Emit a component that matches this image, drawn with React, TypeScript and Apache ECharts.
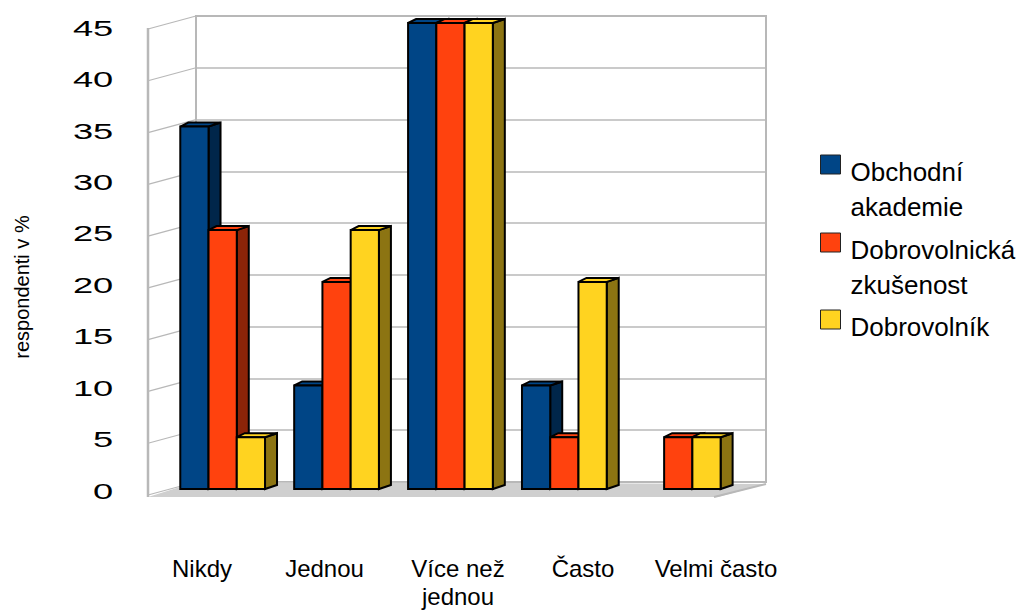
import React, { useEffect, useRef } from "react";
import * as echarts from "echarts";

const categories = ["Nikdy", "Jednou", "Více než\njednou", "Často", "Velmi často"];
const seriesNames = ["Obchodní\nakademie", "Dobrovolnická\nzkušenost", "Dobrovolník"];
const obchodni = [35, 10, 45, 10, 0];
const dobrovolnicka = [25, 20, 45, 5, 5];
const dobrovolnik = [5, 25, 45, 20, 5];
const yTicks = [0, 5, 10, 15, 20, 25, 30, 35, 40, 45];
const colors = ["#004586", "#ff420e", "#ffd320"];
const sideColors = ["#00264a", "#8c2408", "#8c7412"];
const yTitle = "respondenti v %";
const labelPadRight = [0, 12, 2, 9, 0];

const GRID_LINE = "#b8b8b8";

function barRenderer(seriesPos: number) {
  return (params: any, api: any) => {
    const v = api.value(1);
    if (!v) return null;
    const band = api.size([1, 0])[0];
    const w = band * 0.248;
    const top = api.coord([api.value(0), v]);
    const base = api.coord([api.value(0), 0]);
    const x0 = top[0] + (seriesPos - 1.5) * w;
    const x1 = x0 + w;
    const y0 = top[1];
    const y1 = base[1];
    const stroke = { stroke: "#000000", lineWidth: 2 };
    return {
      type: "group",
      children: [
        {
          type: "polygon",
          shape: { points: [[x1, y0], [x1 + 12, y0 - 4], [x1 + 12, y1 - 4], [x1, y1]] },
          style: { fill: sideColors[seriesPos], ...stroke },
        },
        {
          type: "polygon",
          shape: { points: [[x0, y0], [x0 + 8, y0 - 4], [x1 + 12, y0 - 4], [x1, y0]] },
          style: { fill: colors[seriesPos], ...stroke },
        },
        {
          type: "rect",
          shape: { x: x0, y: y0, width: w, height: y1 - y0 },
          style: { fill: colors[seriesPos], ...stroke },
        },
      ],
    };
  };
}

export default function App() {
  const ref = useRef<HTMLDivElement>(null);
  useEffect(() => {
    document.body.style.margin = "0";
    const chart = echarts.init(ref.current!, null, { renderer: "svg" });
    const barData = [obchodni, dobrovolnicka, dobrovolnik];
    const legendTops = [154, 232, 309];
    const iconHeights = [68, 68, 33];
    chart.setOption({
      animation: false,
      backgroundColor: "#ffffff",
      grid: [
        { left: 196, top: 16, width: 570, height: 466, show: true, borderColor: GRID_LINE, borderWidth: 2, backgroundColor: "transparent" },
        { left: 165.7, top: 23, width: 569.5, height: 466 },
        { left: 137.75, top: 28, width: 642.5, height: 467 },
      ],
      xAxis: [
        { type: "category", gridIndex: 0, data: categories, show: false },
        { type: "category", gridIndex: 1, data: categories, show: false },
        {
          type: "category",
          gridIndex: 2,
          data: categories.map((value, i) => ({ value, textStyle: { padding: [0, labelPadRight[i], 0, 0] } })),
          axisLine: { show: false },
          axisTick: { show: false },
          axisLabel: { interval: 0, margin: 63, fontSize: 24, lineHeight: 28, fontFamily: "Liberation Sans", color: "#000000" },
        },
      ],
      yAxis: [
        {
          type: "value", gridIndex: 0, min: 0, max: 45, interval: 5,
          axisLine: { show: false }, axisTick: { show: false }, axisLabel: { show: false },
          splitLine: { show: true, lineStyle: { color: GRID_LINE, width: 1.5 } },
        },
        { type: "value", gridIndex: 1, min: 0, max: 45, interval: 5, show: false },
        { type: "value", gridIndex: 2, min: 0, max: 45, interval: 5, show: false },
      ],
      legend: seriesNames.map((name, i) => ({
        data: [name],
        left: 820,
        top: legendTops[i],
        padding: 0,
        orient: "vertical",
        selectedMode: false,
        icon: `path://M0 0H20V19H0Z M0 ${iconHeights[i]}L0 ${iconHeights[i]}`,
        symbolKeepAspect: false,
        itemWidth: 20,
        itemHeight: iconHeights[i],
        itemStyle: { borderColor: "#222222", borderWidth: 1 },
        textStyle: {
          fontFamily: "Liberation Sans",
          fontSize: 26,
          lineHeight: 35,
          color: "#000000",
          padding: [0, 0, 0, 5],
        },
      })),
      graphic: [
        {
          type: "text",
          x: 22,
          y: 287,
          rotation: Math.PI / 2,
          style: { text: yTitle, align: "center", verticalAlign: "middle", fontFamily: "Liberation Sans", fontSize: 20, fill: "#000000" },
        },
      ],
      series: [
        {
          type: "custom",
          name: "floor",
          xAxisIndex: 0,
          yAxisIndex: 0,
          coordinateSystem: "cartesian2d",
          data: [[0, 0]],
          silent: true,
          renderItem: (params: any, api: any) => {
            const c = params.coordSys;
            const yb = api.coord([0, 0])[1];
            return {
              type: "group",
              children: [
                {
                  type: "polygon",
                  shape: { points: [[c.x - 48, yb + 15], [c.x + 522, yb + 15], [c.x + c.width, yb + 2], [c.x, yb]] },
                  style: { fill: "#cfcfcf" },
                },
                { type: "line", shape: { x1: c.x + 518, y1: yb + 15, x2: c.x + c.width, y2: yb + 2 }, style: { stroke: GRID_LINE, lineWidth: 2 } },
                { type: "line", shape: { x1: c.x - 48, y1: c.y + 12, x2: c.x - 48, y2: yb + 15 }, style: { stroke: GRID_LINE, lineWidth: 2.5 } },
              ],
            };
          },
        },
        {
          type: "custom",
          name: "walls",
          xAxisIndex: 0,
          yAxisIndex: 0,
          coordinateSystem: "cartesian2d",
          data: yTicks.map((t) => [0, t]),
          silent: true,
          renderItem: (params: any, api: any) => {
            const c = params.coordSys;
            const y = api.coord([0, api.value(1)])[1];
            return {
              type: "line",
              shape: { x1: c.x - 48, y1: y + 13, x2: c.x, y2: y },
              style: { stroke: GRID_LINE, lineWidth: 1.2 },
            };
          },
        },
        {
          type: "custom",
          name: "ticks",
          xAxisIndex: 2,
          yAxisIndex: 2,
          coordinateSystem: "cartesian2d",
          data: yTicks.map((t) => [0, t]),
          silent: true,
          renderItem: (params: any, api: any) => {
            const c = params.coordSys;
            const v = api.value(1);
            const y = api.coord([0, v])[1];
            return {
              type: "text",
              x: c.x - 24.5,
              y,
              scaleX: 1.65,
              style: {
                text: String(v),
                align: "right",
                verticalAlign: "middle",
                fontFamily: "Liberation Sans",
                fontSize: 22,
                fill: "#000000",
              },
            };
          },
        },
        ...seriesNames.map((name, i) => ({
          type: "custom",
          name,
          xAxisIndex: 1,
          yAxisIndex: 1,
          coordinateSystem: "cartesian2d",
          itemStyle: { color: colors[i] },
          data: barData[i].map((v, k) => [k, v]),
          silent: true,
          renderItem: barRenderer(i),
        })),
      ],
    });
    return () => chart.dispose();
  }, []);
  return <div ref={ref} style={{ width: 1019, height: 610 }} />;
}
